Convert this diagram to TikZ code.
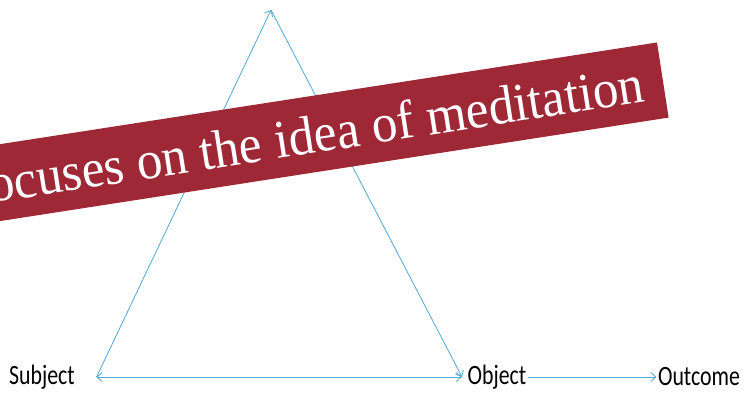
\documentclass[tikz,border=0pt]{standalone}
\usepackage{fontspec}
\setmainfont{Liberation Serif}
\newfontfamily\labelfont{Carlito}
\usepackage{graphicx}
\usepackage{tikz}
\usetikzlibrary{arrows.meta, calc}

\definecolor{lineblue}{RGB}{80,168,212}
\definecolor{bannerred}{RGB}{158,40,54}

\begin{document}
\begin{tikzpicture}[x=1pt, y=1pt,
        link/.style={draw=lineblue, line width=0.8pt, -{Straight Barb[length=5pt, width=9pt]}},
        lbl/.style={font=\labelfont\fontsize{28}{30}\selectfont, inner sep=2pt, xscale=0.78, transform shape},
        banner/.style={fill=bannerred, text=white, font=\fontsize{54}{60}\selectfont,
            minimum height=76pt, inner xsep=20pt, rotate=8.8, anchor=east}]
        % Fix the page size
        \useasboundingbox (0,0) rectangle (744,409);
        
        % Corner labels
        \node[lbl] (subject) at (42,32) {Subject};
        \node[lbl] (object) at (497,32) {Object};
        \node[lbl] (outcome) at (699,32) {Outcome};
        
        % Triangle corners
        \coordinate (top) at (271,399);
        \coordinate (left) at ($(subject.east)+(20,0)$);
        \coordinate (right) at ($(object.west)+(-4,0)$);
        
        % Triangle sides
        \draw[link, {Straight Barb[length=5pt, width=9pt]}-{Straight Barb[length=5pt, width=9pt]}] (left) -- (right);
        \draw[link] (left) -- (top);
        \draw[link] (top) -- (right);
        
        % Object to outcome
        \draw[link] (object.east) -- (outcome.west);
        
        % Banner across the picture
        \node[banner] (title) at (663,329) {\scalebox{0.95}[1]{Focuses on the idea of meditation}};
    \end{tikzpicture}
\end{document}
